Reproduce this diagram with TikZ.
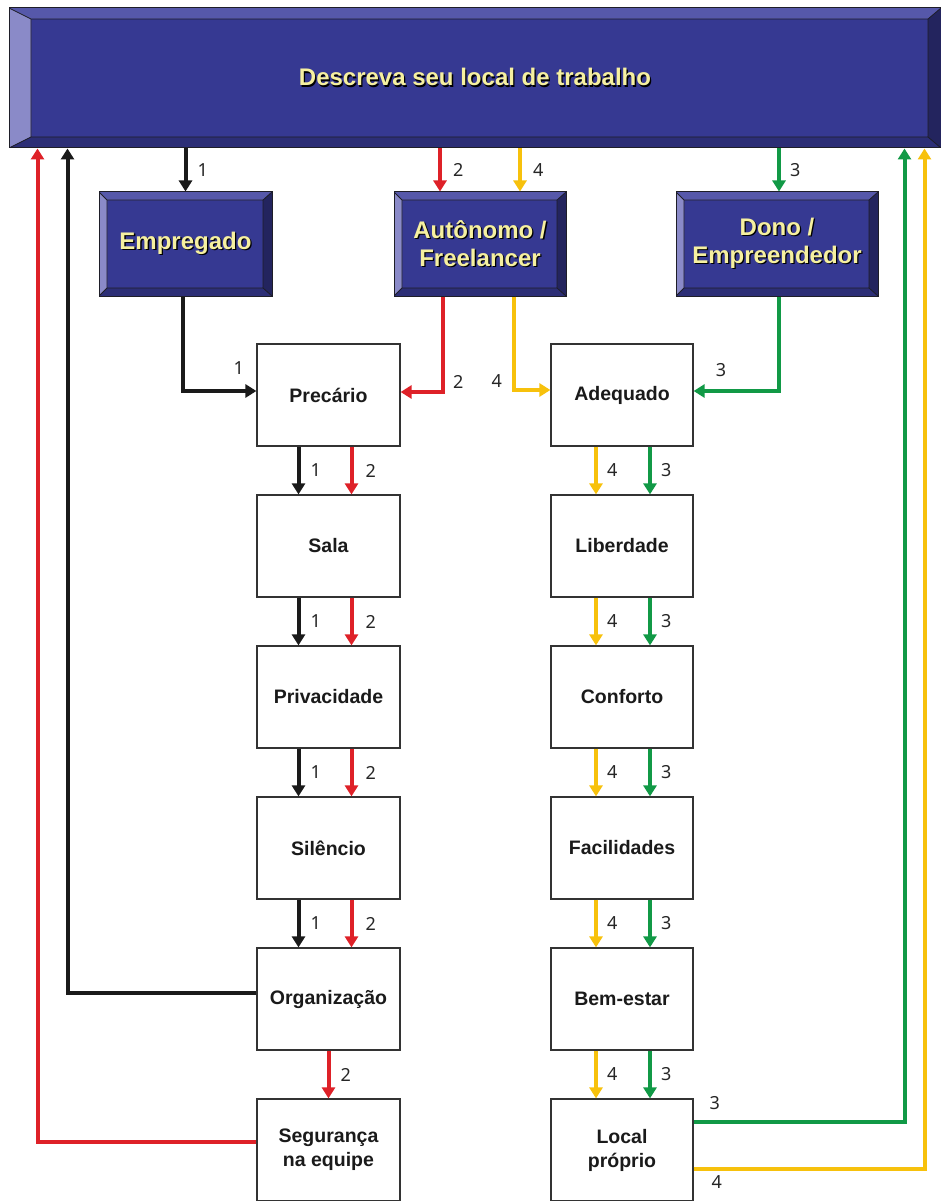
\documentclass[tikz,border=0pt]{standalone}
\usepackage{fontspec}
\setmainfont{Liberation Sans}
\newfontfamily\numfont{Noto Sans}
\usetikzlibrary{arrows.meta,positioning}

\definecolor{bface}{RGB}{54,57,146}
\definecolor{btop}{RGB}{86,88,170}
\definecolor{bleft}{RGB}{138,138,200}
\definecolor{bbottom}{RGB}{44,46,118}
\definecolor{bright}{RGB}{35,36,94}
\definecolor{bedge}{RGB}{30,30,40}
\definecolor{btext}{RGB}{246,240,160}
\definecolor{lred}{RGB}{222,33,40}
\definecolor{lyellow}{RGB}{247,193,12}
\definecolor{lgreen}{RGB}{17,153,70}
\definecolor{lblack}{RGB}{26,26,26}

% yellow title text with a dark drop shadow
\newcommand\shtext[1]{\leavevmode\rlap{\kern1.3pt\raisebox{-1.3pt}{\color{black}#1}}#1}

\begin{document}
\begin{tikzpicture}[x=1pt,y=-1pt,
  font=\bfseries\fontsize{19.5}{24}\selectfont,
  bevel/.style n args={3}{draw=bedge, line width=1pt, fill=bface, text=btext,
    align=center, font=\bfseries\fontsize{24}{28}\selectfont,
    path picture={
      \coordinate (onw) at (path picture bounding box.north west);
      \coordinate (one) at (path picture bounding box.north east);
      \coordinate (ose) at (path picture bounding box.south east);
      \coordinate (osw) at (path picture bounding box.south west);
      \coordinate (inw) at ([shift={(#1pt,-#3pt)}]onw);
      \coordinate (ine) at ([shift={(-#2pt,-#3pt)}]one);
      \coordinate (ise) at ([shift={(-#2pt,#3pt)}]ose);
      \coordinate (isw) at ([shift={(#1pt,#3pt)}]osw);
      \fill[btop] (onw) -- (one) -- (ine) -- (inw) -- cycle;
      \fill[bleft] (onw) -- (inw) -- (isw) -- (osw) -- cycle;
      \fill[bbottom] (osw) -- (isw) -- (ise) -- (ose) -- cycle;
      \fill[bright] (one) -- (ose) -- (ise) -- (ine) -- cycle;
      \draw[bedge,line width=0.8pt] (inw) rectangle (ise)
        (onw) -- (inw) (one) -- (ine) (ose) -- (ise) (osw) -- (isw);
    }},
  profile/.style={bevel={8}{9}{8}, minimum height=104pt},
  choice/.style={draw=black!80, line width=1.2pt, fill=white, text=lblack,
    minimum width=143pt, minimum height=102pt, align=center},
  link/.style={->,>={Triangle[width=13pt,length=11pt]},line width=4pt},
  num/.style={font=\numfont\fontsize{18}{18}\selectfont,text=black!85,inner sep=1pt},
  node distance=47.8pt]

  \useasboundingbox (0,0) rectangle (941,1201);

  % Title and the three profiles
  \node[bevel={22}{13}{11}, minimum width=932pt, minimum height=140pt] (banner) at (475,78)
    {\shtext{Descreva seu local de trabalho}};
  \node[profile, minimum width=173pt] (empregado) at (185.5,244) {\shtext{Empregado}};
  \node[profile, minimum width=172pt] (autonomo) at (480,244) {\shtext{Autônomo /}\\\shtext{Freelancer}};
  \node[profile, minimum width=202pt] (dono) at (777,244) {\shtext{Dono /}\\\shtext{Empreendedor}};

  % The two chains of answers
  \node[choice] (precario) at (328.5,395) {Precário};
  \node[choice, below=of precario] (sala) {Sala};
  \node[choice, below=of sala] (privacidade) {Privacidade};
  \node[choice, below=of privacidade] (silencio) {Silêncio};
  \node[choice, below=of silencio] (organizacao) {Organização};
  \node[choice, below=of organizacao] (seguranca) {Segurança\\na equipe};

  \node[choice, minimum width=142pt] (adequado) at (622,395) {Adequado};
  \node[choice, minimum width=142pt, below=of adequado] (liberdade) {Liberdade};
  \node[choice, minimum width=142pt, below=of liberdade] (conforto) {Conforto};
  \node[choice, minimum width=142pt, below=of conforto] (facilidades) {Facilidades};
  \node[choice, minimum width=142pt, below=of facilidades] (bemestar) {Bem-estar};
  \node[choice, minimum width=142pt, below=of bemestar] (local) {Local\\próprio};

  % From the title to the profiles
  \draw[link,lblack] (empregado.north |- banner.south) -- node[num,right=9pt]{1} (empregado.north);
  \draw[link,lred] ([xshift=-40pt]autonomo.north |- banner.south) -- node[num,right=10pt]{2} ([xshift=-40pt]autonomo.north);
  \draw[link,lyellow] ([xshift=40pt]autonomo.north |- banner.south) -- node[num,right=10pt]{4} ([xshift=40pt]autonomo.north);
  \draw[link,lgreen] ([xshift=2pt]dono.north |- banner.south) -- node[num,right=8pt]{3} ([xshift=2pt]dono.north);

  % From the profiles into the chains
  \draw[link,lblack] ([xshift=-3pt]empregado.south) |- node[num,above=14pt,pos=0.88]{1} ([yshift=4pt]precario.west);
  \draw[link,lred] ([xshift=-37pt]autonomo.south) |- node[num,right=7pt,pos=0.45]{2} ([yshift=3pt]precario.east);
  \draw[link,lyellow] ([xshift=34pt]autonomo.south) |- node[num,left=9pt,pos=0.45]{4} ([yshift=5pt]adequado.west);
  \draw[link,lgreen] ([xshift=2pt]dono.south) |- node[num,above=11pt,pos=0.84]{3} ([yshift=4pt]adequado.east);

  % Left chain
  \draw[link,lblack] ([xshift=-30pt]precario.south) -- node[num,right=9pt]{1} ([xshift=-30pt]sala.north);
  \draw[link,lred] ([xshift=23pt]precario.south) -- node[num,right=11pt]{2} ([xshift=23pt]sala.north);
  \draw[link,lblack] ([xshift=-30pt]sala.south) -- node[num,right=9pt]{1} ([xshift=-30pt]privacidade.north);
  \draw[link,lred] ([xshift=23pt]sala.south) -- node[num,right=11pt]{2} ([xshift=23pt]privacidade.north);
  \draw[link,lblack] ([xshift=-30pt]privacidade.south) -- node[num,right=9pt]{1} ([xshift=-30pt]silencio.north);
  \draw[link,lred] ([xshift=23pt]privacidade.south) -- node[num,right=11pt]{2} ([xshift=23pt]silencio.north);
  \draw[link,lblack] ([xshift=-30pt]silencio.south) -- node[num,right=9pt]{1} ([xshift=-30pt]organizacao.north);
  \draw[link,lred] ([xshift=23pt]silencio.south) -- node[num,right=11pt]{2} ([xshift=23pt]organizacao.north);
  \draw[link,lred] (organizacao.south) -- node[num,right=9pt]{2} (seguranca.north);

  % Right chain
  \draw[link,lyellow] ([xshift=-26pt]adequado.south) -- node[num,right=8pt]{4} ([xshift=-26pt]liberdade.north);
  \draw[link,lgreen] ([xshift=28pt]adequado.south) -- node[num,right=8pt]{3} ([xshift=28pt]liberdade.north);
  \draw[link,lyellow] ([xshift=-26pt]liberdade.south) -- node[num,right=8pt]{4} ([xshift=-26pt]conforto.north);
  \draw[link,lgreen] ([xshift=28pt]liberdade.south) -- node[num,right=8pt]{3} ([xshift=28pt]conforto.north);
  \draw[link,lyellow] ([xshift=-26pt]conforto.south) -- node[num,right=8pt]{4} ([xshift=-26pt]facilidades.north);
  \draw[link,lgreen] ([xshift=28pt]conforto.south) -- node[num,right=8pt]{3} ([xshift=28pt]facilidades.north);
  \draw[link,lyellow] ([xshift=-26pt]facilidades.south) -- node[num,right=8pt]{4} ([xshift=-26pt]bemestar.north);
  \draw[link,lgreen] ([xshift=28pt]facilidades.south) -- node[num,right=8pt]{3} ([xshift=28pt]bemestar.north);
  \draw[link,lyellow] ([xshift=-26pt]bemestar.south) -- node[num,right=8pt]{4} ([xshift=-26pt]local.north);
  \draw[link,lgreen] ([xshift=28pt]bemestar.south) -- node[num,right=8pt]{3} ([xshift=28pt]local.north);

  % Back to the title
  \draw[link,lblack] ([yshift=6pt]organizacao.west) -| ([xshift=59pt]banner.south west);
  \draw[link,lred] ([yshift=8pt]seguranca.west) -| ([xshift=29pt]banner.south west);
  \draw[link,lgreen] ([yshift=28pt]local.east) -| node[num,above=9pt,pos=0.05]{3} ([xshift=-37pt]banner.south east);
  \draw[link,lyellow] ([yshift=-19pt]local.east) -| node[num,below=4pt,pos=0.05]{4} ([xshift=-17pt]banner.south east);
\end{tikzpicture}
\end{document}
